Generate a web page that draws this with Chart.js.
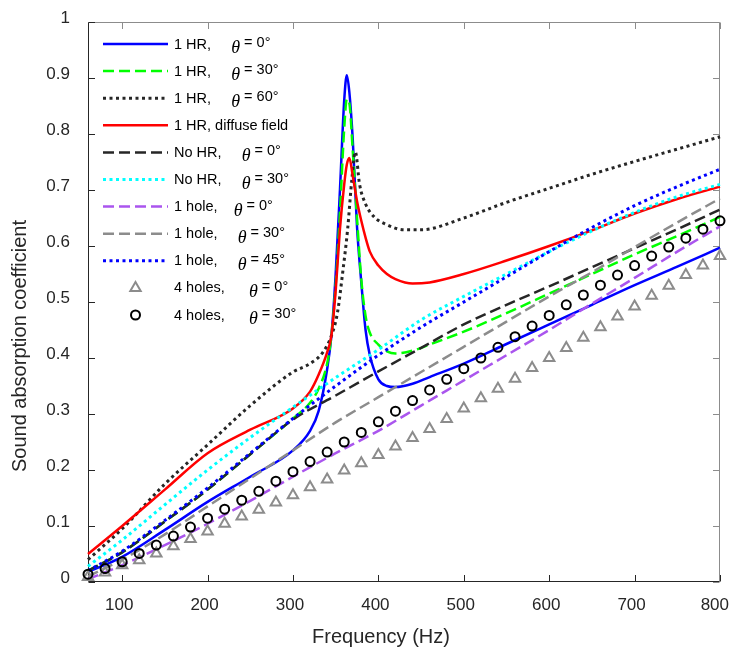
<!DOCTYPE html>
<html>
<head>
<meta charset="utf-8">
<script src="https://cdn.jsdelivr.net/npm/chart.js@4.4.1/dist/chart.umd.min.js"></script>
<style>
  html, body { margin: 0; padding: 0; background: #fff; }
</style>
</head>
<body>
<canvas id="chart" width="730" height="651"></canvas>
<script>
// tick values
const xTicks = [100, 200, 300, 400, 500, 600, 700, 800];
const yTicks = [0, 0.1, 0.2, 0.3, 0.4, 0.5, 0.6, 0.7, 0.8, 0.9, 1];

// frequency grids (Hz)
const lineFreq = [60, 100, 150, 200, 250, 300, 350, 400, 450, 500, 550, 600, 650, 700, 750, 800];
const resFreq = [60, 100, 150, 200, 250, 300, 320, 330, 340, 345, 350, 355, 360, 363, 366, 370, 375, 380, 385, 390, 400, 410, 420, 440, 460, 500, 550, 600, 650, 700, 750, 800];
const hr60Freq = [60, 100, 150, 200, 250, 300, 320, 335, 345, 352, 358, 364, 369, 373, 378, 385, 395, 410, 430, 450, 500, 550, 600, 650, 700, 750, 800];
const markerFreq = [60, 80, 100, 120, 140, 160, 180, 200, 220, 240, 260, 280, 300, 320, 340, 360, 380, 400, 420, 440, 460, 480, 500, 520, 540, 560, 580, 600, 620, 640, 660, 680, 700, 720, 740, 760, 780, 800];

// 1 HR (on resFreq)
const hrDeg0 = [0.018, 0.045, 0.093, 0.143, 0.188, 0.235, 0.27, 0.305, 0.38, 0.44, 0.55, 0.70, 0.86, 0.905, 0.875, 0.79, 0.634, 0.535, 0.45, 0.405, 0.362, 0.35, 0.348, 0.354, 0.366, 0.39, 0.425, 0.46, 0.495, 0.53, 0.563, 0.597];
const hrDeg30 = [0.02, 0.053, 0.108, 0.165, 0.228, 0.292, 0.32, 0.345, 0.39, 0.44, 0.53, 0.66, 0.81, 0.862, 0.855, 0.77, 0.65, 0.54, 0.475, 0.445, 0.424, 0.412, 0.408, 0.413, 0.424, 0.447, 0.48, 0.515, 0.55, 0.585, 0.618, 0.652];
const hrDiffuse = [0.05, 0.10, 0.165, 0.23, 0.272, 0.31, 0.34, 0.37, 0.41, 0.44, 0.52, 0.63, 0.71, 0.745, 0.757, 0.725, 0.68, 0.645, 0.615, 0.59, 0.565, 0.55, 0.541, 0.533, 0.535, 0.55, 0.574, 0.60, 0.628, 0.658, 0.684, 0.706];
// 1 HR, 60 deg (on hr60Freq)
const hrDeg60 = [0.04, 0.095, 0.175, 0.245, 0.315, 0.375, 0.39, 0.41, 0.44, 0.48, 0.55, 0.63, 0.72, 0.768, 0.71, 0.675, 0.652, 0.638, 0.629, 0.629, 0.65, 0.678, 0.703, 0.728, 0.751, 0.773, 0.795];

// no HR and 1 hole (on lineFreq)
const noHrDeg0 = [0.02, 0.053, 0.108, 0.165, 0.228, 0.29, 0.333, 0.376, 0.418, 0.46, 0.495, 0.528, 0.562, 0.596, 0.63, 0.665];
const noHrDeg30 = [0.028, 0.075, 0.138, 0.20, 0.258, 0.312, 0.365, 0.415, 0.468, 0.51, 0.55, 0.59, 0.627, 0.66, 0.688, 0.71];
const holeDeg0 = [0.005, 0.03, 0.066, 0.104, 0.145, 0.188, 0.23, 0.27, 0.315, 0.36, 0.405, 0.45, 0.497, 0.543, 0.59, 0.635];
const holeDeg30 = [0.01, 0.04, 0.085, 0.135, 0.185, 0.235, 0.285, 0.33, 0.375, 0.42, 0.465, 0.51, 0.553, 0.598, 0.642, 0.685];
const holeDeg45 = [0.02, 0.055, 0.11, 0.168, 0.23, 0.292, 0.35, 0.405, 0.455, 0.50, 0.545, 0.59, 0.633, 0.672, 0.706, 0.737];

// 4 holes (on markerFreq)
const holes4Deg0 = [0.009, 0.017, 0.030, 0.039, 0.051, 0.064, 0.077, 0.090, 0.104, 0.117, 0.129, 0.142, 0.155, 0.169, 0.183, 0.199, 0.212, 0.227, 0.242, 0.257, 0.273, 0.291, 0.310, 0.328, 0.345, 0.363, 0.382, 0.400, 0.418, 0.436, 0.455, 0.474, 0.492, 0.511, 0.529, 0.548, 0.565, 0.582];
const holes4Deg30 = [0.014, 0.024, 0.036, 0.051, 0.066, 0.082, 0.098, 0.114, 0.130, 0.146, 0.162, 0.180, 0.197, 0.215, 0.232, 0.250, 0.267, 0.286, 0.305, 0.324, 0.343, 0.362, 0.381, 0.400, 0.419, 0.438, 0.457, 0.476, 0.495, 0.5125, 0.530, 0.548, 0.565, 0.582, 0.598, 0.614, 0.630, 0.645];

const pts = (xs, ys) => xs.map((x, i) => ({ x: x, y: ys[i] }));

function line(label, xs, ys, color, dash, width) {
    return {
        label: label,
        data: pts(xs, ys),
        borderColor: color,
        backgroundColor: color,
        borderWidth: width,
        borderDash: dash,
        pointRadius: 0,
        cubicInterpolationMode: 'monotone',
        fill: false
    };
}

function markers(label, xs, ys, color, style, radius) {
    return {
        label: label,
        data: pts(xs, ys),
        showLine: false,
        pointStyle: style,
        pointRadius: radius,
        pointBorderWidth: 2,
        pointBorderColor: color,
        pointBackgroundColor: 'rgba(0,0,0,0)',
        borderColor: color,
        backgroundColor: 'rgba(0,0,0,0)'
    };
}

const DOT = [3, 3.5];
const DASH = [11, 5];

const datasets = [
    line('1 HR,     θ = 0°', resFreq, hrDeg0, '#0000ff', [], 2.5),
    line('1 HR,     θ = 30°', resFreq, hrDeg30, '#00ff00', DASH, 2.5),
    line('1 HR,     θ = 60°', hr60Freq, hrDeg60, '#262626', DOT, 3),
    line('1 HR, diffuse field', resFreq, hrDiffuse, '#ff0000', [], 2.5),
    line('No HR,     θ = 0°', lineFreq, noHrDeg0, '#262626', DASH, 2.5),
    line('No HR,     θ = 30°', lineFreq, noHrDeg30, '#00ffff', DOT, 3),
    line('1 hole,    θ = 0°', lineFreq, holeDeg0, '#aa55ee', DASH, 2.5),
    line('1 hole,     θ = 30°', lineFreq, holeDeg30, '#8c8c8c', DASH, 2.5),
    line('1 hole,     θ = 45°', lineFreq, holeDeg45, '#0000ff', DOT, 3),
    markers('4 holes,      θ = 0°', markerFreq, holes4Deg0, '#8c8c8c', 'triangle', 6),
    markers('4 holes,      θ = 30°', markerFreq, holes4Deg30, '#000000', 'circle', 4.5)
];
// first dataset at the bottom, like the plotting order
datasets.forEach((d, i) => { d.order = 20 - i; d.clip = false; });

const SANS = '"Liberation Sans", Arial, sans-serif';
const AXIS = '#262626';

const frame = {
    id: 'frame',
    beforeDatasetsDraw(chart) {
        const { ctx, chartArea: a, scales: { x, y } } = chart;
        const L = Math.round(a.left) + 0.5, R = Math.round(a.right) - 0.5;
        const T = Math.round(a.top) + 0.5, B = Math.round(a.bottom) - 0.5;
        const tl = 6.5;
        ctx.save();
        ctx.lineWidth = 1;
        ctx.strokeStyle = '#8c8c8c';
        ctx.beginPath();
        ctx.moveTo(L, T); ctx.lineTo(R, T); ctx.lineTo(R, B);
        ctx.stroke();
        ctx.strokeStyle = AXIS;
        ctx.beginPath();
        ctx.moveTo(L, T); ctx.lineTo(L, B); ctx.lineTo(R, B);
        ctx.stroke();
        x.ticks.forEach(t => {
            const px = Math.round(x.getPixelForValue(t.value)) + 0.5;
            ctx.strokeStyle = AXIS;
            ctx.beginPath(); ctx.moveTo(px, B); ctx.lineTo(px, B - tl); ctx.stroke();
            ctx.strokeStyle = '#8c8c8c';
            ctx.beginPath(); ctx.moveTo(px, T); ctx.lineTo(px, T + tl); ctx.stroke();
        });
        y.ticks.forEach(t => {
            const py = Math.round(y.getPixelForValue(t.value)) + 0.5;
            ctx.strokeStyle = AXIS;
            ctx.beginPath(); ctx.moveTo(L, py); ctx.lineTo(L + tl, py); ctx.stroke();
            ctx.strokeStyle = '#8c8c8c';
            ctx.beginPath(); ctx.moveTo(R, py); ctx.lineTo(R - tl, py); ctx.stroke();
        });
        ctx.restore();
    },
    afterDraw(chart) {
        const { ctx, chartArea: a, scales: { x, y } } = chart;
        ctx.save();
        ctx.fillStyle = AXIS;
        ctx.font = '17px ' + SANS;
        // tick labels
        ctx.textAlign = 'center';
        ctx.textBaseline = 'middle';
        x.ticks.forEach(t => {
            const w = ctx.measureText(String(t.value)).width;
            const cx = Math.min(x.getPixelForValue(t.value) - 3, chart.width - 1 - w / 2);
            ctx.fillText(String(t.value), cx, 605);
        });
        ctx.textAlign = 'right';
        y.ticks.forEach(t => {
            ctx.fillText(String(+t.value.toFixed(1)), 70, y.getPixelForValue(t.value) - 4);
        });
        // axis titles
        ctx.font = '20px ' + SANS;
        ctx.textAlign = 'center';
        ctx.fillText('Frequency (Hz)', 381, 637);
        ctx.save();
        ctx.translate(20, 346);
        ctx.rotate(-Math.PI / 2);
        ctx.fillText('Sound absorption coefficient', 0, 0);
        ctx.restore();

        // legend inside the axes
        ctx.textAlign = 'left';
        ctx.textBaseline = 'alphabetic';
        chart.data.datasets.forEach((d, i) => {
            const ry = 44 + i * 27.1;
            ctx.save();
            if (d.showLine === false) {
                ctx.strokeStyle = d.pointBorderColor;
                ctx.fillStyle = 'rgba(0,0,0,0)';
                ctx.lineWidth = d.pointBorderWidth;
                Chart.helpers.drawPoint(ctx, { pointStyle: d.pointStyle, radius: d.pointRadius, borderWidth: d.pointBorderWidth, rotation: 0 }, 135.5, ry);
            } else {
                ctx.strokeStyle = d.borderColor;
                ctx.lineWidth = d.borderWidth;
                ctx.setLineDash(d.borderDash);
                ctx.beginPath();
                ctx.moveTo(103, ry); ctx.lineTo(168, ry);
                ctx.stroke();
            }
            ctx.restore();
            ctx.fillStyle = '#000';
            const parts = d.label.split('θ');
            let tx = 174;
            ctx.font = '14.5px ' + SANS;
            ctx.fillText(parts[0], tx, ry + 4.5);
            if (parts.length > 1) {
                tx += ctx.measureText(parts[0]).width;
                ctx.font = 'italic 18px "Liberation Serif", "Times New Roman", serif';
                ctx.fillText('θ', tx, ry + 9);
                tx += ctx.measureText('θ').width;
                ctx.font = '14.5px ' + SANS;
                ctx.fillText(parts[1], tx, ry + 3);
            }
        });
        ctx.restore();
    }
};

new Chart(document.getElementById('chart'), {
    type: 'line',
    data: { datasets: datasets },
    options: {
        responsive: false,
        animation: false,
        devicePixelRatio: 1,
        layout: { padding: { top: 22, right: 10, left: 0, bottom: 0 } },
        plugins: { legend: { display: false }, tooltip: { enabled: false } },
        scales: {
            x: {
                type: 'linear',
                min: 60,
                max: 800,
                afterBuildTicks: s => { s.ticks = xTicks.map(v => ({ value: v })); },
                afterFit: s => { s.height = 69; },
                ticks: { display: false },
                grid: { display: false, drawTicks: false },
                border: { display: false }
            },
            y: {
                min: 0,
                max: 1,
                afterBuildTicks: s => { s.ticks = yTicks.map(v => ({ value: v })); },
                afterFit: s => { s.width = 88; },
                ticks: { display: false },
                grid: { display: false, drawTicks: false },
                border: { display: false }
            }
        }
    },
    plugins: [frame]
});
</script>
</body>
</html>
